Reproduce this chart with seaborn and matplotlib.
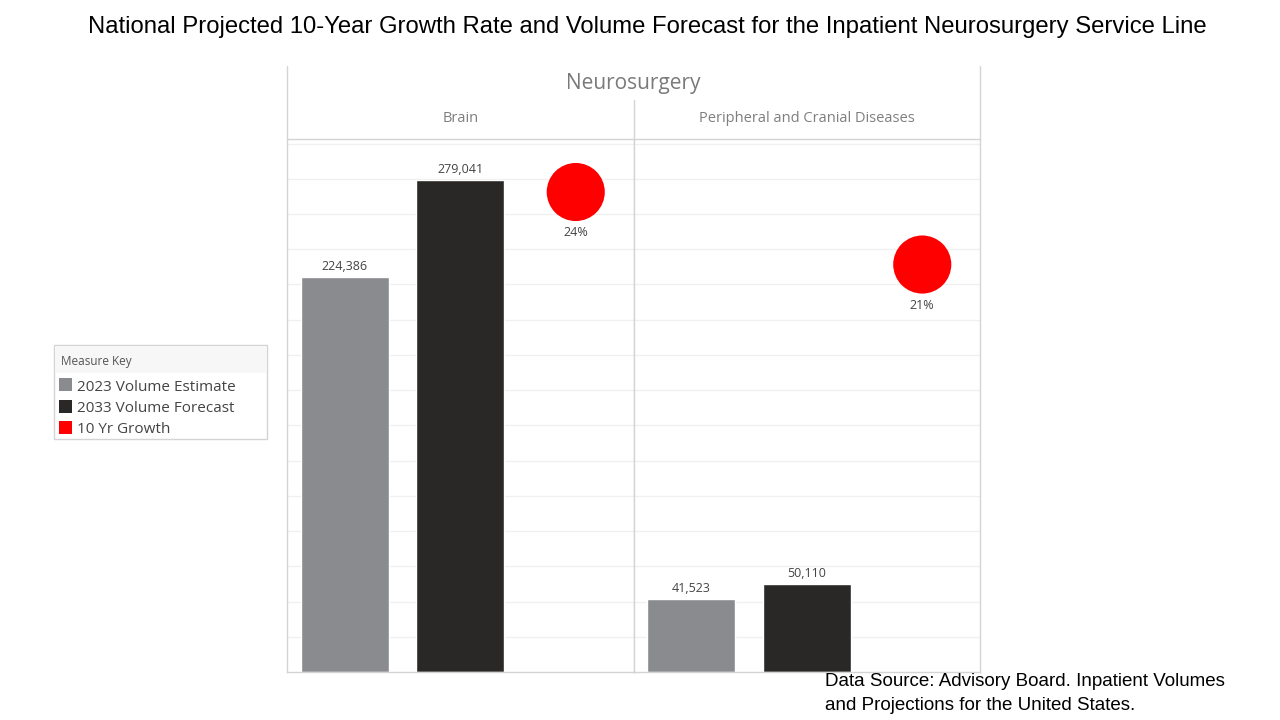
import pandas as pd
import numpy as np
import seaborn as sns
import matplotlib.pyplot as plt
from matplotlib.patches import Rectangle
from matplotlib.lines import Line2D

# data
panels = ["Brain", "Peripheral and Cranial Diseases"]
measures = ["2023 Volume Estimate", "2033 Volume Forecast", "10 Yr Growth"]
vol_2023 = [224386, 41523]
vol_2033 = [279041, 50110]
growth_pct = [24.36, 20.68]
growth_labels = ["24%", "21%"]

colors = {"2023 Volume Estimate": "#898b8e",
          "2033 Volume Forecast": "#2a2827",
          "10 Yr Growth": "#ff0000"}

rows = []
for i, p in enumerate(panels):
    rows.append({"panel": p, "measure": measures[0], "value": vol_2023[i]})
    rows.append({"panel": p, "measure": measures[1], "value": vol_2033[i]})
bars = pd.DataFrame(rows)
growth = pd.DataFrame({"panel": panels, "x": [2, 2], "growth": growth_pct})

sns.set_theme(style="white")
plt.rcParams["font.family"] = ["Open Sans", "DejaVu Sans"]

fig = plt.figure(figsize=(12.8, 7.2), dpi=100)
W, H = 1280, 720
left, right, top, bottom = 287, 980, 140, 672
pw = (right - left) / 2

line_col = "#d4d4d4"
grid_col = "#f0f0f0"

def fx(px):
    return px / W

def fy(py):
    return 1 - py / H

for i, p in enumerate(panels):
    ax = fig.add_axes([fx(left + i * pw), fy(bottom), pw / W, (bottom - top) / H])
    sub = bars[bars["panel"] == p]
    sns.barplot(data=sub, x="measure", y="value", hue="measure", order=measures,
                hue_order=measures, palette=colors, width=0.76, legend=False,
                ax=ax, saturation=1)
    ax.set_ylim(0, 302000)
    ax.set_xlim(-0.5, 2.5)
    ax.set_yticks(np.arange(20000, 300001, 20000))
    ax.yaxis.grid(True, color=grid_col, linewidth=1)
    ax.set_axisbelow(True)
    ax.set_xlabel("")
    ax.set_ylabel("")
    ax.set_xticks([])
    ax.spines["top"].set_visible(False)
    for s in ["left", "right", "bottom"]:
        ax.spines[s].set_color(line_col)
        ax.spines[s].set_linewidth(1)
    for c in ax.containers:
        ax.bar_label(c, labels=[f"{v:,.0f}" if v > 0 else "" for v in c.datavalues],
                     padding=3, fontsize=9, color="#444444")

    ax2 = ax.twinx()
    gsub = growth[growth["panel"] == p]
    sns.scatterplot(data=gsub, x="x", y="growth", color=colors["10 Yr Growth"],
                    s=1750, edgecolor="none", ax=ax2, legend=False)
    ax2.set_ylim(0, 27.0)
    ax2.set_xlim(-0.5, 2.5)
    ax2.set_axis_off()
    ax2.annotate(growth_labels[i], (2, growth_pct[i]), xytext=(0, -24.5),
                 textcoords="offset points", ha="center", va="top",
                 fontsize=9, color="#444444")
    ax.tick_params(axis="y", which="both", left=False, right=False,
                   labelleft=False, labelright=False)

    # column header
    fig.text(fx(left + i * pw + pw / 2), fy(119), p, ha="center", va="center",
             fontsize=10.5, color="#7f7f7f")

# header frame lines
fig.add_artist(Line2D([fx(left)] * 2, [fy(66), fy(top)], color=line_col, lw=1))
fig.add_artist(Line2D([fx(right)] * 2, [fy(66), fy(top)], color=line_col, lw=1))
fig.add_artist(Line2D([fx(left + pw)] * 2, [fy(100), fy(top)], color=line_col, lw=1))
fig.add_artist(Line2D([fx(left), fx(right)], [fy(139)] * 2, color=line_col, lw=1))

fig.text(fx((left + right) / 2), fy(84), "Neurosurgery", ha="center", va="center",
         fontsize=15, color="#7a7a7a")

fig.text(fx(647), fy(27), "National Projected 10-Year Growth Rate and Volume Forecast for the Inpatient Neurosurgery Service Line",
         ha="center", va="center", fontsize=17.2, color="black", family="Liberation Sans")

fig.text(fx(825), fy(682), "Data Source: Advisory Board. Inpatient Volumes", ha="left",
         va="center", fontsize=13.5, color="black", family="Liberation Sans")
fig.text(fx(825), fy(705), "and Projections for the United States.", ha="left",
         va="center", fontsize=13.5, color="black", family="Liberation Sans")

# legend box (Measure Key)
fig.add_artist(Rectangle((fx(54), fy(439)), (267 - 54) / W, (439 - 345) / H,
                         transform=fig.transFigure, facecolor="white",
                         edgecolor=line_col, lw=1))
fig.add_artist(Rectangle((fx(55), fy(373)), (266 - 55) / W, (373 - 346) / H,
                         transform=fig.transFigure, facecolor="#f7f7f7",
                         edgecolor="none"))
fig.text(fx(61), fy(362), "Measure Key", ha="left", va="center", fontsize=8.5,
         color="#555555")
for k, m in enumerate(measures):
    yc = 385 + 21 * k
    fig.add_artist(Rectangle((fx(59), fy(yc + 6.5)), 13 / W, 13 / H,
                             transform=fig.transFigure, facecolor=colors[m],
                             edgecolor="none"))
    fig.text(fx(77), fy(yc + 2.5), m, ha="left", va="center", fontsize=11,
             color="#444444")

fig.savefig("out.png", dpi=100)
